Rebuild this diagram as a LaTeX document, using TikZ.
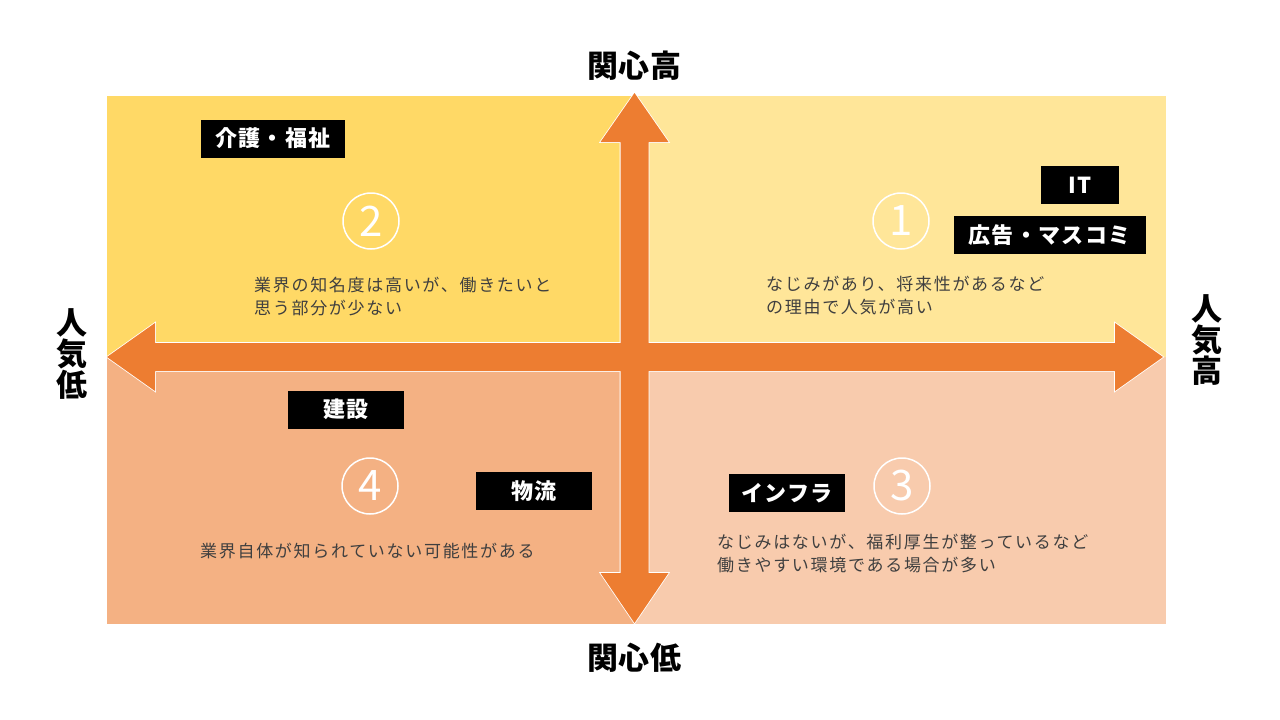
\documentclass[tikz,border=0pt]{standalone}
\usepackage{fontspec}
\setmainfont{Noto Sans CJK JP}
\usepackage{tikz}
\usetikzlibrary{positioning}
\usepackage{xcolor}
\definecolor{goldYellow}{HTML}{FFD966}
\definecolor{paleYellow}{HTML}{FFE699}
\definecolor{salmon}{HTML}{F4B183}
\definecolor{paleSalmon}{HTML}{F8CBAD}
\definecolor{axisOrange}{HTML}{ED7D31}
\definecolor{descGray}{HTML}{3F3F3F}
\newcommand{\tagBox}[4]{\node[tagbox, minimum width=#3] (#1) at (#2) {#4};}
\tikzset{
  axisline/.style={
    draw=white,
    line width=1.6pt,
    line join=miter
  }
}
\tikzset{
  axisfill/.style={
    fill=axisOrange
  }
}
\tikzset{
  tagbox/.style={
    rectangle,
    fill=black,
    text=white,
    minimum height=38,
    inner sep=0pt,
    font=\fontsize{22}{22}\selectfont\bfseries\addfontfeatures{LetterSpace=6}
  }
}
\tikzset{
  numring/.style={
    circle,
    draw=white,
    line width=1.5pt,
    minimum size=56,
    inner sep=0pt,
    text=white,
    font=\fontsize{42}{42}\selectfont
  }
}
\tikzset{
  desc/.style={
    anchor=west,
    align=left,
    inner sep=0pt,
    text=descGray,
    font=\fontsize{17}{23}\selectfont\addfontfeatures{LetterSpace=10}
  }
}
\tikzset{
  axislabel/.style={
    align=center,
    inner sep=0pt,
    font=\fontsize{31}{31}\selectfont\bfseries\addfontfeatures{LetterSpace=3}
  }
}

\begin{document}
\begin{tikzpicture}[x=1pt, y=-1pt]
    \useasboundingbox (0,0) rectangle (1280,720);
    \def\cx{634.5}
    \def\cy{357}
    % quadrants
    \fill[goldYellow] (107,96) rectangle (\cx,\cy);
    \fill[paleYellow] (\cx,96) rectangle (1166,\cy);
    \fill[salmon] (107,\cy) rectangle (\cx,624);
    \fill[paleSalmon] (\cx,\cy) rectangle (1166,624);
    % axes
    \foreach \layer in {axisline, axisfill}{
      \path[\layer]
      (107,\cy) -- (155,\cy-34) -- (155,\cy-14) -- (1115,\cy-14)
      -- (1115,\cy-34) -- (1163,\cy) -- (1115,\cy+34) -- (1115,\cy+14)
      -- (155,\cy+14) -- (155,\cy+34) -- cycle;
      \path[\layer]
      (\cx,93) -- (\cx+34,142) -- (\cx+14,142) -- (\cx+14,573)
      -- (\cx+34,573) -- (\cx,623) -- (\cx-34,573) -- (\cx-14,573)
      -- (\cx-14,142) -- (\cx-34,142) -- cycle;
    }
    % axis labels
    \node[axislabel] (high) at (\cx,66) {関心高};
    \node[axislabel] (low) at (\cx,658) {関心低};
    \node[axislabel] (unpopular) at (72,354) {人\\気\\低};
    \node[axislabel] (popular) at (1207,340) {人\\気\\高};
    % numbers
    \foreach \n/\px/\py in {1/901/221, 2/371/221, 3/902/486, 4/370/486}{
      \node[numring] (num\n) at (\px,\py) {\n};
    }
    % industries
    \tagBox{care}{273,138.5}{144}{介護・福祉}
    \tagBox{it}{1080,185}{78}{IT}
    \tagBox{ad}{1049.5,235}{192}{広告・マスコミ}
    \tagBox{build}{346,409.5}{116}{建設}
    \tagBox{logi}{534,491}{116}{物流}
    \tagBox{infra}{787,493}{116}{インフラ}
    % descriptions
    \node[desc] (desc1) at (766,295.5) {なじみがあり、将来性があるなど\\の理由で人気が高い};
    \node[desc] (desc2) at (254,296.5) {業界の知名度は高いが、働きたいと\\思う部分が少ない};
    \node[desc] (desc3) at (717,553.5) {なじみはないが、福利厚生が整っているなど\\働きやすい環境である場合が多い};
    \node[desc] (desc4) at (200,551.5) {業界自体が知られていない可能性がある};
\end{tikzpicture}
\end{document}
